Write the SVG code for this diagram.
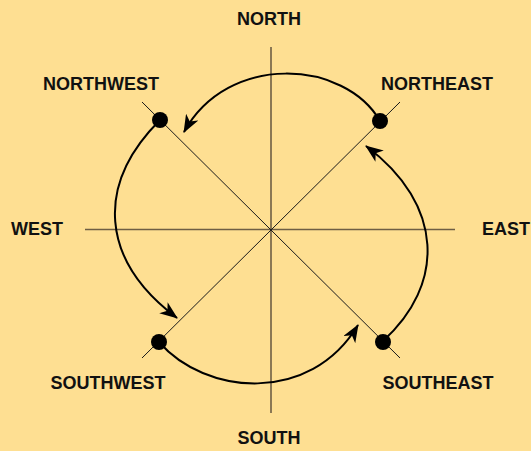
<svg xmlns="http://www.w3.org/2000/svg" width="531" height="451" viewBox="0 0 531 451">
<style>
.axis{stroke:#6e5e44;stroke-width:1.6;fill:none}
.diag{stroke:#1a1a1a;stroke-width:1;fill:none}
.curve{stroke:#000;stroke-width:2;fill:none;marker-end:url(#arr)}
.dot{fill:#000}
.lbl{font-family:"Liberation Sans",Arial,sans-serif;font-weight:bold;font-size:18px;fill:#111;text-anchor:middle}
</style>
<defs>
<marker id="arr" viewBox="0 0 18 14" refX="17" refY="7" markerWidth="18" markerHeight="14" markerUnits="userSpaceOnUse" orient="auto">
<path d="M0,0 L18,7 L0,14 L5,7 z" fill="#000"/>
</marker>
</defs>
<rect width="531" height="451" fill="#FEDF92"/>
<g id="axes">
<line class="axis" x1="271" y1="47" x2="271" y2="413"/>
<line class="axis" x1="85" y1="229.5" x2="455" y2="229.5"/>
<line class="diag" x1="142" y1="102" x2="400" y2="358"/>
<line class="diag" x1="400" y1="102" x2="142" y2="358"/>
</g>
<g id="connectors">
<path class="curve" d="M380 121 C345 60, 228 52, 184 132"/>
<path class="curve" d="M383 341 C445 285, 445 205, 366 146"/>
<path class="curve" d="M160 120 C95 185, 100 260, 177 318"/>
<path class="curve" d="M159 342 C205 395, 310 405, 358 325"/>
</g>
<g id="northwest"><circle class="dot" cx="160" cy="120" r="8"/><text class="lbl" x="101" y="90">NORTHWEST</text></g>
<g id="northeast"><circle class="dot" cx="380" cy="121" r="8"/><text class="lbl" x="437" y="90">NORTHEAST</text></g>
<g id="southwest"><circle class="dot" cx="159" cy="342" r="8"/><text class="lbl" x="108" y="389">SOUTHWEST</text></g>
<g id="southeast"><circle class="dot" cx="383" cy="342" r="8"/><text class="lbl" x="438" y="389">SOUTHEAST</text></g>
<g id="north"><text class="lbl" x="269" y="25">NORTH</text></g>
<g id="south"><text class="lbl" x="269" y="444">SOUTH</text></g>
<g id="west"><text class="lbl" x="37" y="235">WEST</text></g>
<g id="east"><text class="lbl" x="506" y="235">EAST</text></g>
</svg>
